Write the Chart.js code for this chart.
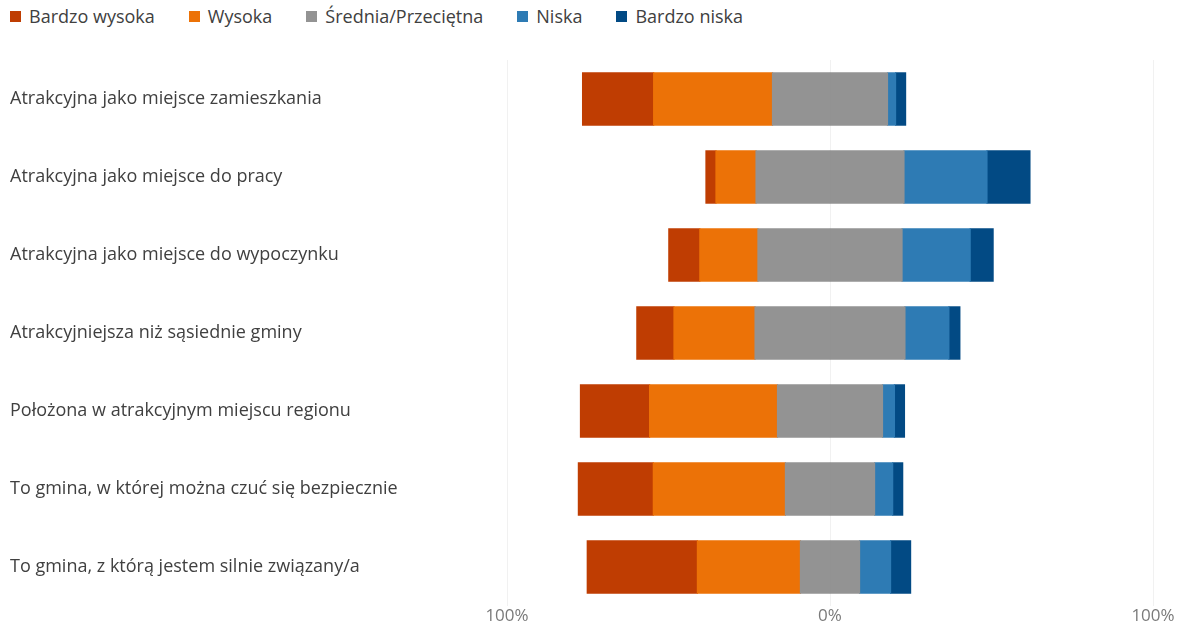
<!DOCTYPE html>
<html>
<head>
<meta charset="utf-8">
<script src="https://cdn.jsdelivr.net/npm/chart.js@4/dist/chart.umd.min.js"></script>
<style>
  html, body { margin: 0; padding: 0; background: #fff; }
  #wrap { position: relative; width: 1184px; height: 627px; }
  #legend { position: absolute; left: 10px; top: 4px; display: flex; gap: 34px;
    font-family: "Open Sans", sans-serif; font-size: 18px; color: #404040; line-height: 24px; }
  #legend .item { display: flex; align-items: center; }
  #legend .box { width: 11px; height: 11px; margin-right: 8px; }
  canvas { position: absolute; left: 0; top: 0; }
</style>
</head>
<body>
<div id="wrap">
  <div id="legend"></div>
  <canvas id="c" width="1184" height="627"></canvas>
</div>
<script>
const categories = [
  "Atrakcyjna jako miejsce zamieszkania",
  "Atrakcyjna jako miejsce do pracy",
  "Atrakcyjna jako miejsce do wypoczynku",
  "Atrakcyjniejsza niż sąsiednie gminy",
  "Położona w atrakcyjnym miejscu regionu",
  "To gmina, w której można czuć się bezpiecznie",
  "To gmina, z którą jestem silnie związany/a"
];
const seriesNames = ["Bardzo wysoka", "Wysoka", "Średnia/Przeciętna", "Niska", "Bardzo niska"];
const bardzoWysoka = [22.0, 3.1, 9.6, 11.5, 21.4, 23.2, 34.1];
const wysoka       = [36.8, 12.4, 18.0, 25.1, 39.6, 40.9, 31.9];
const srednia      = [35.6, 45.8, 44.6, 46.4, 32.5, 27.6, 18.3];
const niska        = [2.5, 25.7, 21.1, 13.6, 3.7, 5.6, 9.6];
const bardzoNiska  = [3.1, 13.3, 7.1, 3.4, 3.1, 3.1, 6.2];
const tickValues = [-100, 0, 100];

const colors = ["#bf3d02", "#ec7207", "#939393", "#2e7bb4", "#024a84"];

// legend (HTML)
const leg = document.getElementById('legend');
seriesNames.forEach((n, i) => {
  const it = document.createElement('div'); it.className = 'item';
  const b = document.createElement('span'); b.className = 'box'; b.style.background = colors[i];
  const t = document.createElement('span'); t.textContent = n;
  it.appendChild(b); it.appendChild(t); leg.appendChild(it);
});

const datasets = [
  { label: seriesNames[2] + " (L)", data: srednia.map(v => -v / 2), backgroundColor: colors[2] },
  { label: seriesNames[2] + " (R)", data: srednia.map(v => v / 2), backgroundColor: colors[2] },
  { label: seriesNames[1], data: wysoka.map(v => -v), backgroundColor: colors[1] },
  { label: seriesNames[3], data: niska, backgroundColor: colors[3] },
  { label: seriesNames[0], data: bardzoWysoka.map(v => -v), backgroundColor: colors[0] },
  { label: seriesNames[4], data: bardzoNiska, backgroundColor: colors[4] }
].map(d => Object.assign(d, { stack: 's', barPercentage: 0.67, categoryPercentage: 1, borderWidth: 0, inflateAmount: 0.6 }));

new Chart(document.getElementById('c'), {
  type: 'bar',
  data: { labels: categories, datasets },
  options: {
    indexAxis: 'y',
    responsive: false,
    animation: false,
    devicePixelRatio: 1,
    layout: { padding: { left: 10, right: 31, top: 60, bottom: 0 } },
    plugins: { legend: { display: false }, tooltip: { enabled: false } },
    scales: {
      x: {
        stacked: true, min: -100, max: 100, z: 1,
        afterBuildTicks: s => { s.ticks = tickValues.map(v => ({ value: v })); },
        ticks: {
          padding: 2, color: '#7a7a7a',
          font: { family: "'Open Sans', sans-serif", size: 17, lineHeight: 1 },
          callback: v => Math.abs(v) + '%'
        },
        grid: { color: 'rgba(200,200,200,0.25)', lineWidth: 1, drawTicks: false },
        border: { display: false }
      },
      y: {
        stacked: true,
        afterFit: s => { s.width = 497; },
        ticks: {
          crossAlign: 'far', padding: 0, color: '#404040',
          font: { family: "'Open Sans', sans-serif", size: 18 }
        },
        grid: { display: false, drawTicks: false },
        border: { display: false }
      }
    }
  }
});
</script>
</body>
</html>
